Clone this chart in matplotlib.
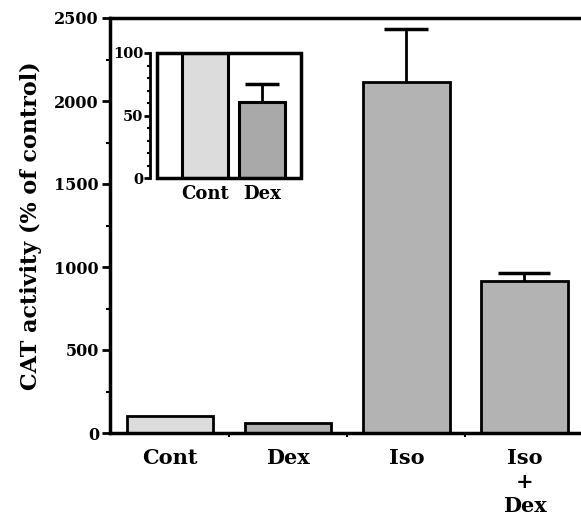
import numpy as np
import matplotlib.pyplot as plt
from matplotlib.patches import Rectangle
from matplotlib.ticker import MultipleLocator, FixedLocator

# main panel data
groups = ['Cont', 'Dex', 'Iso', 'Iso\n+\nDex']
activity = [100, 60, 2112, 916]
err_up = [0, 0, 322, 50]
caps = [0, 0, 16, 19]

# inset data
inset_groups = ['Cont', 'Dex']
inset_activity = [100, 61]
inset_err = [0, 14]

bar_colors = ['#dcdcdc', '#b3b3b3', '#b3b3b3', '#b3b3b3']
inset_colors = ['#dcdcdc', '#a9a9a9']

plt.rcParams['font.family'] = 'DejaVu Serif'
plt.rcParams['font.weight'] = 'bold'


def upper_err(a, x, v, e, cap):
    # one-sided error bar, no cap at the bar top
    eb = a.errorbar(x, v, yerr=[[0], [e]], fmt='none', ecolor='black',
                    elinewidth=2, capsize=cap, capthick=2.5, zorder=1)
    eb[1][0].set_visible(False)


fig = plt.figure(figsize=(5.81, 5.19), dpi=100)
ax = fig.add_axes([110 / 581, 1 - 433 / 519, 470 / 581, 415 / 519])

xs = np.arange(len(groups))
ax.bar(xs, activity, width=0.73, color=bar_colors, edgecolor='black',
       linewidth=2, zorder=2)
for x, v, e, c in zip(xs, activity, err_up, caps):
    if e > 0:
        upper_err(ax, x, v, e, c)

ax.set_xlim(-0.51, 3.47)
ax.set_ylim(0, 2500)
ax.spines['right'].set_visible(False)
for s in ['left', 'top', 'bottom']:
    ax.spines[s].set_linewidth(2.5)

ax.yaxis.set_major_locator(MultipleLocator(500))
ax.yaxis.set_minor_locator(MultipleLocator(250))
ax.tick_params(axis='y', which='major', length=6, width=2, labelsize=11.5, pad=2)
ax.tick_params(axis='y', which='minor', length=3, width=1.5)
ax.set_xticks(xs)
ax.set_xticklabels(groups, fontsize=15, fontweight='bold', linespacing=1.25,
                   va='top')
ax.xaxis.set_minor_locator(FixedLocator([0.5, 1.5, 2.5]))
ax.tick_params(axis='x', which='major', length=0, pad=11)
ax.tick_params(axis='x', which='minor', length=3, width=1.5)
ax.set_ylabel('CAT activity (% of control)', fontsize=16, fontweight='bold',
              labelpad=9)

# inset
ins = fig.add_axes([157 / 581, 1 - 178 / 519, 144 / 581, 125 / 519])
ix = np.arange(len(inset_groups))
ins.bar(ix, inset_activity, width=0.8, color=inset_colors, edgecolor='black',
        linewidth=2.2, zorder=2)
upper_err(ins, ix[1], inset_activity[1], inset_err[1], 12)
ins.set_xlim(-0.84, 1.68)
ins.set_ylim(0, 100)
for s in ['top', 'right', 'bottom']:
    ins.spines[s].set_visible(False)
ins.spines['left'].set_position(('outward', 5))
ins.spines['left'].set_linewidth(2)
ins.add_patch(Rectangle((0, 0), 1, 1, transform=ins.transAxes, fill=False,
                        edgecolor='black', linewidth=2.5, zorder=3,
                        clip_on=False))
ins.yaxis.set_major_locator(MultipleLocator(50))
ins.yaxis.set_minor_locator(MultipleLocator(10))
ins.tick_params(axis='y', which='major', length=4, width=2, labelsize=10.5, pad=1)
ins.tick_params(axis='y', which='minor', length=2.5, width=1.5)
ins.set_xticks(ix)
ins.set_xticklabels(inset_groups, fontsize=13, fontweight='bold')
ins.tick_params(axis='x', length=0, pad=5)

fig.savefig('out.png', dpi=100)
